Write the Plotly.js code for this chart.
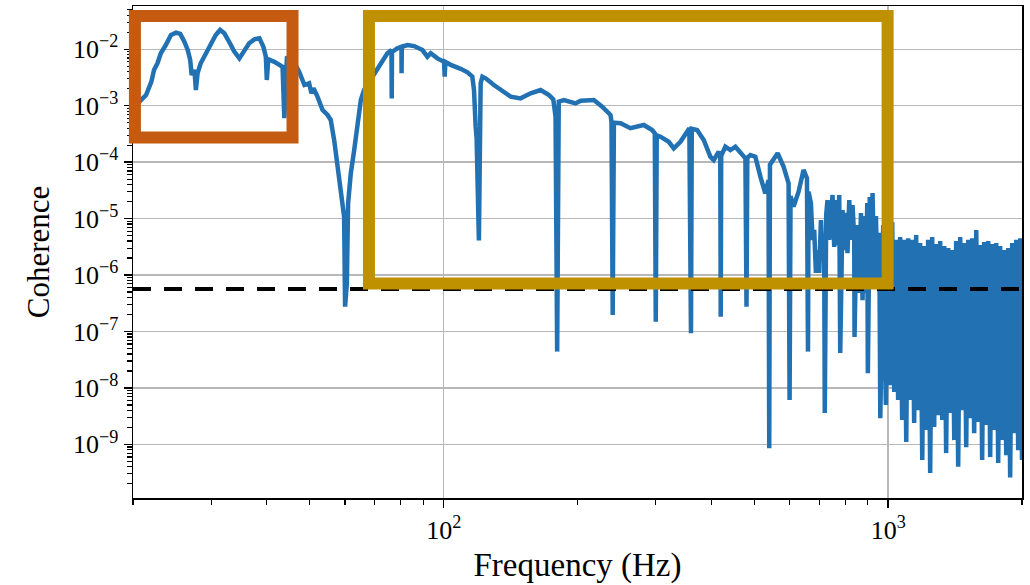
<!DOCTYPE html>
<html>
<head>
<meta charset="utf-8">
<script src="https://cdn.plot.ly/plotly-3.0.1.min.js"></script>
<style>
  html, body { margin: 0; padding: 0; background: #ffffff; }
  #chart { width: 1030px; height: 585px; }
</style>
</head>
<body>
<div id="chart"></div>
<script>
// ---- Data (frequency in Hz, coherence) ----
const freqHz = [
  20.0, 21.4, 22.0, 22.3, 22.7, 23.1, 23.7, 24.35, 25.0, 25.55,
  26.1, 26.55, 26.9, 27.1, 27.5, 27.7, 27.95, 28.4, 29.2, 29.95,
  30.7, 31.4, 32.1, 32.9, 33.8, 34.7, 35.6, 36.5, 37.5, 38.5,
  39.3, 39.8, 40.0, 40.3, 41.6, 42.65, 43.4, 43.8, 44.4, 46.0,
  47.3, 48.6, 49.8, 50.4, 50.95, 52.0, 53.4, 54.8, 55.7, 56.7,
  57.7, 58.7, 59.2, 59.7, 60.0, 60.55, 60.95, 61.8, 62.9, 64.0,
  65.1, 66.2, 67.9, 69.7, 72.2, 74.7, 76.3, 76.4, 76.5, 78.7,
  80.35, 80.4, 80.5, 82.9, 85.8, 89.6, 91.9, 93.5, 96.8, 100.2,
  100.5, 100.9, 103.7, 109.2, 113.1, 116.0, 117.0, 118.0, 118.6, 120.0,
  121.1, 122.2, 124.3, 129.7, 136.6, 141.5, 148.9, 156.9, 165.2, 172.5,
  176.4, 178.5, 180.0, 181.5, 186.4, 198.0, 203.3, 217.7, 227.3, 237.3,
  238.5, 240.0, 241.5, 249.9, 263.1, 281.9, 294.4, 298.5, 300.0, 301.5,
  307.3, 320.8, 329.3, 340.9, 357.0, 360.0, 361.5, 371.6, 384.6, 398.0,
  405.0, 415.6, 419.0, 420.0, 421.0, 430.2, 441.6, 453.2, 465.0, 477.3,
  480.0, 482.0, 489.7, 502.5, 516.0, 529.0, 538.0, 540.0, 542.0, 551.6,
  564.0, 581.8, 596.9, 600.0, 603.0, 612.6, 628.6, 645.0, 656.5, 660.0,
  662.0, 670.0, 676.2, 681.6, 687.7, 693.3, 699.6, 705.8, 711.7, 717.8,
  720.0, 725.3, 730.2, 736.8, 743.3, 749.5, 756.1, 762.9, 769.2, 776.0,
  780.0, 789.4, 796.2, 803.3, 809.9, 817.3, 824.4, 831.3, 838.6, 840.0,
  848.7, 853.1, 860.7, 868.3, 875.6, 883.1, 891.0, 897.1, 900.0, 908.9,
  916.0, 922.2, 930.3, 938.5, 946.4, 954.9, 960.0, 969.4, 974.5, 981.1,
  988.1,
  1000, 1010, 1021, 1032, 1042, 1053, 1064, 1075, 1086, 1098,
  1109, 1121, 1132, 1144, 1156, 1168, 1180, 1193, 1205, 1218,
  1230, 1243, 1256, 1269, 1282, 1296, 1309, 1323, 1337, 1350,
  1365, 1379, 1393, 1408, 1422, 1437, 1452, 1467, 1482, 1498,
  1514, 1529, 1545, 1561, 1578, 1594, 1611, 1627, 1644, 1661,
  1679, 1696, 1714, 1732, 1750, 1768, 1786, 1805, 1824, 1843,
  1862, 1881, 1901, 1921, 1941, 1961, 1982, 2000
];
const coherence = [
  9.1e-4, 1.55e-3, 2.67e-3, 4.3e-3, 5.65e-3, 8.5e-3, 1.19e-2, 1.79e-2, 1.97e-2, 1.87e-2,
  1.36e-2, 9.7e-3, 6.45e-3, 3.5e-3, 4.3e-3, 1.9e-3, 3.8e-3, 5.65e-3, 8.5e-3, 1.28e-2,
  1.79e-2, 2.2e-2, 1.92e-2, 1.36e-2, 9.1e-3, 6.9e-3, 9.1e-3, 1.28e-2, 1.5e-2, 1.57e-2,
  1.11e-2, 7.4e-3, 2.86e-3, 6.65e-3, 6.0e-3, 5.3e-3, 4.9e-3, 6.0e-4, 7.4e-3, 6.0e-3,
  4.0e-3, 2.33e-3, 2.5e-3, 1.66e-3, 2.04e-3, 1.45e-3, 8.4e-4, 6.85e-4, 5.6e-4, 2.47e-4,
  9.5e-5, 3.2e-5, 1.87e-5, 1.08e-5, 2.75e-7, 7.1e-7, 1.87e-5, 6.35e-5, 1.64e-4, 4.9e-4,
  1.26e-3, 1.9e-3, 2.6e-3, 3.76e-3, 6.0e-3, 8.5e-3, 9.7e-3, 1.35e-3, 9.0e-3, 1.04e-2,
  1.11e-2, 3.76e-3, 1.1e-2, 1.19e-2, 1.14e-2, 9.7e-3, 7.4e-3, 8.5e-3, 6.9e-3, 6.0e-3,
  3.27e-3, 5.95e-3, 5.3e-3, 4.5e-3, 3.9e-3, 3.27e-3, 1.9e-3, 4.25e-4, 2.65e-4, 4.1e-6,
  2.5e-3, 3.27e-3, 3.06e-3, 2.33e-3, 1.77e-3, 1.45e-3, 1.35e-3, 1.66e-3, 1.9e-3, 1.55e-3,
  1.3e-3, 6.4e-4, 4.4e-8, 1.18e-3, 1.26e-3, 1.1e-3, 1.23e-3, 1.26e-3, 9.6e-4, 6.85e-4,
  5.2e-4, 1.96e-7, 5.0e-4, 4.9e-4, 4.0e-4, 4.56e-4, 3.7e-4, 3.25e-4, 1.49e-7, 3.0e-4,
  2.83e-4, 2.3e-4, 1.76e-4, 2.3e-4, 4.0e-4, 9.3e-8, 3.9e-4, 3.7e-4, 2.47e-4, 1.25e-4,
  1.09e-4, 1.53e-4, 1.25e-4, 1.82e-7, 1.3e-4, 1.88e-4, 1.64e-4, 1.88e-4, 1.44e-4, 1.17e-4,
  2.75e-7, 1.2e-4, 1.34e-4, 1.25e-4, 5.5e-5, 2.8e-5, 4.8e-5, 8.5e-10, 9.0e-5, 1.09e-4,
  1.44e-4, 8.3e-5, 4.2e-5, 6.1e-9, 2.5e-5, 1.63e-5, 3.0e-5, 7.3e-5, 5.2e-5, 4.4e-8,
  3.0e-5, 1.89e-5, 4.2e-6, 6.3e-6, 1.09e-6, 2.77e-6, 1.09e-6, 9.4e-6, 1.85e-6, 2.45e-6,
  3.6e-9, 1.16e-5, 2.13e-5, 4.2e-6, 1.74e-5, 2.62e-5, 3.14e-6, 2.13e-5, 3.4e-6, 2.62e-5,
  4.15e-8, 1.42e-5, 2.77e-6, 1.26e-5, 2.45e-6, 2.13e-5, 4.2e-6, 1.74e-5, 4.7e-6, 8.0e-8,
  7.7e-6, 4.2e-6, 4.8e-7, 1.26e-5, 3.6e-7, 1.11e-5, 4.8e-7, 1.89e-5, 1.83e-8, 2.42e-5,
  7.2e-7, 2.84e-5, 8.2e-7, 1.11e-5, 6.1e-7, 5.6e-6, 2.9e-9, 4.2e-6, 7.7e-6, 1.06e-7,
  5.0e-9,
  6.8e-6, 1.12e-8, 8.7e-6, 8.5e-9, 4.2e-6, 6.1e-9, 4.7e-6, 2.7e-9, 4.2e-6, 1.1e-9,
  4.5e-6, 6.1e-9, 4.2e-6, 2.4e-9, 5.1e-6, 4.05e-9, 3.7e-6, 5.3e-10, 3.27e-6, 1.79e-9,
  4.2e-6, 3.1e-10, 4.7e-6, 2.03e-9, 3.55e-6, 3.3e-9, 4.0e-6, 2.7e-9, 3.27e-6, 7.0e-10,
  3.0e-6, 3.6e-9, 2.77e-6, 1.19e-9, 4.0e-6, 4.0e-10, 4.7e-6, 4.05e-9, 3.7e-6, 8.9e-10,
  4.2e-6, 2.9e-9, 4.5e-6, 1.58e-9, 6.3e-6, 2.5e-9, 3.4e-6, 5.3e-10, 3.85e-6, 2.2e-9,
  4.0e-6, 5.95e-10, 3.55e-6, 1.79e-9, 3.7e-6, 4.7e-10, 3.27e-6, 1.19e-9, 2.77e-6, 6.45e-10,
  3.0e-6, 2.6e-10, 3.7e-6, 1.58e-9, 4.2e-6, 7.9e-10, 4.5e-6, 5.3e-10
];

// Threshold (dashed line)
const thresholdFreq = [20, 2000];
const thresholdValue = [5.65e-7, 5.65e-7];

// Highlight boxes: [f0, f1] in Hz and [c0, c1] in coherence units
const orangeBoxFreq = [20.2, 45.7];
const orangeBoxCoh = [2.74e-4, 0.0389];
const goldBoxFreq = [67.9, 997];
const goldBoxCoh = [7.1e-7, 0.0389];

// Axis ranges and ticks
const xRangeHz = [20, 2000];
const yRangeLog = [-9.95, -1.233];
const xTickVals = [100, 1000];
const xTickText = ['10<sup>2</sup>', '10<sup>3</sup>'];
const yTickVals = [1e-9, 1e-8, 1e-7, 1e-6, 1e-5, 1e-4, 1e-3, 1e-2];
const yTickText = ['10<sup>\u22129</sup>', '10<sup>\u22128</sup>', '10<sup>\u22127</sup>', '10<sup>\u22126</sup>',
                   '10<sup>\u22125</sup>', '10<sup>\u22124</sup>', '10<sup>\u22123</sup>', '10<sup>\u22122</sup>'];
const minorDigits = [2, 3, 4, 5, 6, 7, 8, 9];
const xDecades = [1, 2, 3];
const yDecades = [-10, -9, -8, -7, -6, -5, -4, -3, -2];

const xr = [Math.log10(xRangeHz[0]), Math.log10(xRangeHz[1])];
function xPaper(f) { return (Math.log10(f) - xr[0]) / (xr[1] - xr[0]); }
function yPaper(c) { return (Math.log10(c) - yRangeLog[0]) / (yRangeLog[1] - yRangeLog[0]); }

function minorVals(decades) {
  const out = [];
  decades.forEach(function (p) {
    minorDigits.forEach(function (d) { out.push(d * Math.pow(10, p)); });
  });
  return out;
}

const serif = 'Liberation Serif, Times New Roman, serif';

const traces = [
  {
    x: freqHz, y: coherence, type: 'scatter', mode: 'lines',
    line: { color: '#2271b3', width: 4.5 },
    hoverinfo: 'skip'
  },
  {
    x: thresholdFreq, y: thresholdValue, type: 'scatter', mode: 'lines',
    line: { color: '#000000', width: 4, dash: '18px,13px' },
    hoverinfo: 'skip'
  }
];

function box(fr, co, color) {
  return {
    type: 'rect', xref: 'paper', yref: 'paper', layer: 'above',
    x0: xPaper(fr[0]), x1: xPaper(fr[1]),
    y0: yPaper(co[0]), y1: yPaper(co[1]),
    line: { color: color, width: 12 }, fillcolor: 'rgba(0,0,0,0)'
  };
}

const axisCommon = {
  type: 'log',
  showline: true, mirror: true, linecolor: '#000000', linewidth: 1.5,
  ticks: 'outside', ticklen: 8, tickwidth: 1.5, tickcolor: '#000000',
  tickmode: 'array',
  showgrid: true, gridcolor: '#b8b8b8', gridwidth: 1.5,
  zeroline: false,
  tickfont: { family: serif, size: 26, color: '#000000' }
};

const layout = {
  width: 1030, height: 585,
  margin: { l: 133, r: 8, t: 6, b: 87 },
  paper_bgcolor: '#ffffff', plot_bgcolor: '#ffffff',
  showlegend: false,
  xaxis: Object.assign({}, axisCommon, {
    range: xr,
    tickvals: xTickVals, ticktext: xTickText,
    minor: { tickmode: 'array', tickvals: minorVals(xDecades), ticks: 'outside', ticklen: 5, tickwidth: 1.2, tickcolor: '#000000', showgrid: false },
    title: { text: 'Frequency (Hz)', font: { family: serif, size: 33, color: '#000000' }, standoff: 9 }
  }),
  yaxis: Object.assign({}, axisCommon, {
    range: yRangeLog,
    tickvals: yTickVals, ticktext: yTickText,
    minor: { tickmode: 'array', tickvals: minorVals(yDecades), ticks: 'outside', ticklen: 5, tickwidth: 1.2, tickcolor: '#000000', showgrid: false },
    title: { text: 'Coherence', font: { family: serif, size: 31, color: '#000000' }, standoff: 14 }
  }),
  shapes: [
    box(orangeBoxFreq, orangeBoxCoh, '#c55a11'),
    box(goldBoxFreq, goldBoxCoh, '#bf9000')
  ]
};

Plotly.newPlot('chart', traces, layout, { staticPlot: true, displayModeBar: false });
</script>
</body>
</html>
